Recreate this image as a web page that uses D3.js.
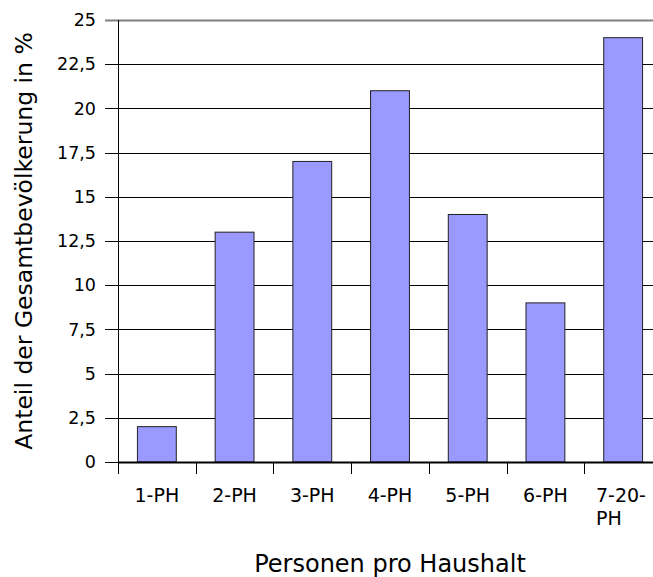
<!DOCTYPE html>
<html>
<head>
<meta charset="utf-8">
<script src="https://d3js.org/d3.v7.min.js"></script>
<style>
  body { margin: 0; background: #fff; }
  text { font-family: "DejaVu Sans", Verdana, sans-serif; fill: #000; }
</style>
</head>
<body>
<div id="chart"></div>
<script>
// data
var categories = ["1-PH", "2-PH", "3-PH", "4-PH", "5-PH", "6-PH", "7-20-PH"];
var shares = [2, 13, 17, 21, 14, 9, 24];
var yTicks = [0, 2.5, 5, 7.5, 10, 12.5, 15, 17.5, 20, 22.5, 25];

var width = 653, height = 577;
var margin = {top: 20, left: 118, bottom: 115, right: -9};

var svg = d3.select("#chart").append("svg")
    .attr("width", width)
    .attr("height", height);

var x = d3.scaleBand()
    .domain(categories)
    .range([margin.left, width - margin.right])
    .paddingInner(0.5)
    .paddingOuter(0.25);

var y = d3.scaleLinear()
    .domain([0, 25])
    .range([height - margin.bottom, margin.top]);

var fmt = function(d) { return String(d).replace(".", ","); };

// gridlines
svg.append("g")
  .selectAll("line")
  .data(yTicks)
  .enter().append("line")
    .attr("x1", margin.left - 13)
    .attr("x2", width)
    .attr("y1", function(d) { return Math.round(y(d)) + 0.5; })
    .attr("y2", function(d) { return Math.round(y(d)) + 0.5; })
    .attr("stroke", function(d) { return d == 25 ? "#808080" : "#000"; })
    .attr("stroke-width", function(d) { return d == 25 ? 2 : 1; });

// y tick labels
svg.append("g")
  .selectAll("text")
  .data(yTicks)
  .enter().append("text")
    .attr("x", 96)
    .attr("y", function(d) { return y(d); })
    .attr("dy", "0.35em")
    .attr("text-anchor", "end")
    .style("font-size", "17.5px")
    .text(fmt);

// bars
svg.append("g")
  .selectAll("rect")
  .data(shares)
  .enter().append("rect")
    .attr("x", function(d, i) { return x(categories[i]); })
    .attr("y", function(d) { return y(d); })
    .attr("width", x.bandwidth())
    .attr("height", function(d) { return y(0) - y(d); })
    .attr("fill", "#9999ff")
    .attr("stroke", "#222")
    .attr("stroke-width", 1);

// y axis line
svg.append("line")
    .attr("x1", margin.left + 0.5).attr("x2", margin.left + 0.5)
    .attr("y1", y(25)).attr("y2", y(0))
    .attr("stroke", "#000");

// x axis line and ticks
var step = x.step();
var tickX = d3.range(categories.length + 1).map(function(i) { return margin.left + i * step; });
svg.append("line")
    .attr("x1", margin.left).attr("x2", width)
    .attr("y1", y(0) + 0.5).attr("y2", y(0) + 0.5)
    .attr("stroke", "#000")
    .attr("stroke-width", 2);
svg.append("g")
  .selectAll("line")
  .data(tickX)
  .enter().append("line")
    .attr("x1", function(d) { return Math.round(d) + 0.5; })
    .attr("x2", function(d) { return Math.round(d) + 0.5; })
    .attr("y1", y(0))
    .attr("y2", y(0) + 12)
    .attr("stroke", "#000");

// x tick labels (7-20-PH wraps)
var xl = svg.append("g")
  .selectAll("text")
  .data(categories)
  .enter().append("text")
    .attr("x", function(d) { return x(d) + x.bandwidth() / 2; })
    .attr("y", 502)
    .attr("text-anchor", "middle")
    .style("font-size", "19px");
xl.each(function(d) {
  var t = d3.select(this);
  if (d == "7-20-PH") {
    t.attr("text-anchor", "start");
    t.append("tspan").attr("x", 596).text("7-20-");
    t.append("tspan").attr("x", 596).attr("dy", 23).text("PH");
  } else {
    t.text(d);
  }
});

// axis titles
svg.append("text")
    .attr("x", 390)
    .attr("y", 572)
    .attr("text-anchor", "middle")
    .style("font-size", "24px")
    .text("Personen pro Haushalt");

svg.append("text")
    .attr("transform", "translate(32,241) rotate(-90)")
    .attr("text-anchor", "middle")
    .style("font-size", "23.5px")
    .text("Anteil der Gesamtbevölkerung in %");
</script>
</body>
</html>
